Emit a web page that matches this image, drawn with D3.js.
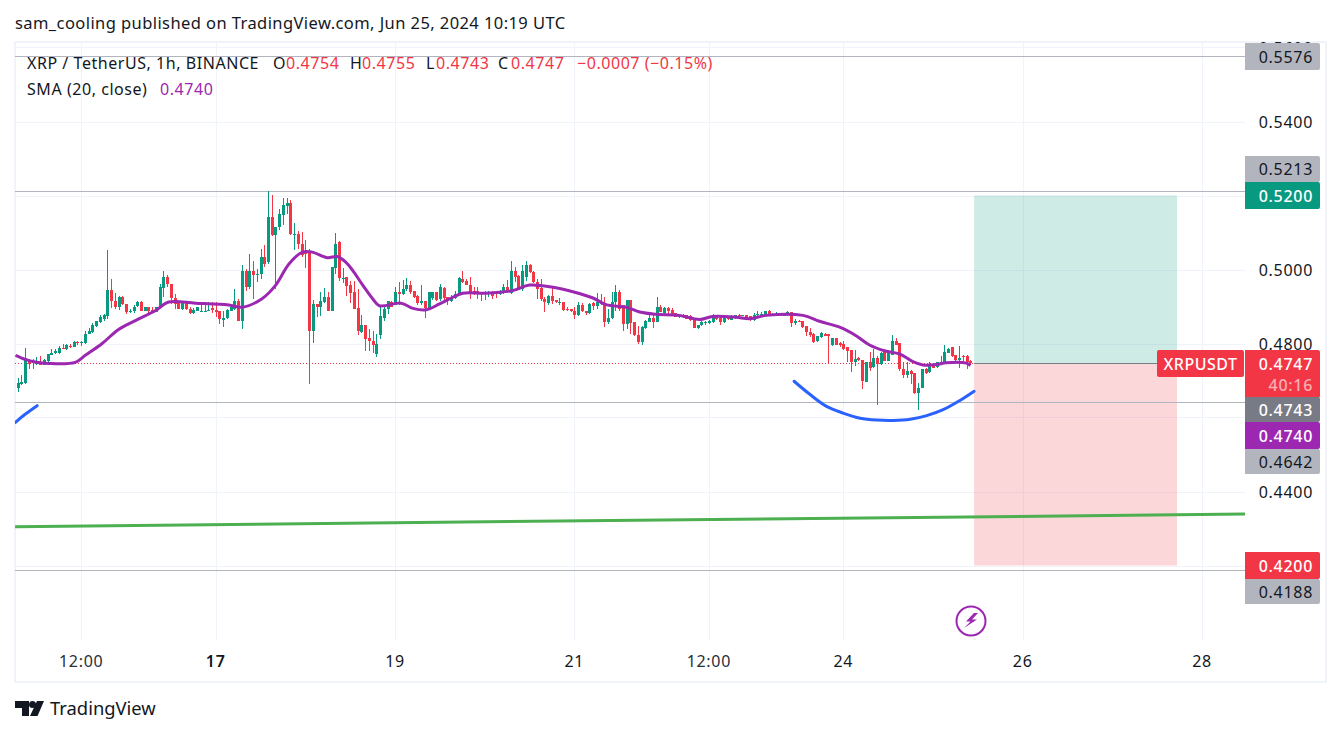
<!DOCTYPE html>
<html>
<head>
<meta charset="UTF-8">
<script src="https://d3js.org/d3.v7.min.js"></script>
<style>
html,body{margin:0;padding:0;background:#fff;}
svg{display:block;}
text{font-family:"Noto Sans",sans-serif;fill:#131722;}
</style>
</head>
<body>
<svg id="chart" width="1341" height="735"></svg>
<script>
// hourly bars, hour 0 = Jun 17 00:00, prices in 1/10000
const firstHour = -53;
const opens = [4679,4690,4692,4754,4752,4744,4751,4742,4753,4769,4774,4774,4787,4785,4793,4790,4804,4801,4801,4826,4830,4847,4859,4867,4873,4944,4916,4898,4925,4907,4884,4887,4901,4911,4889,4900,4891,4884,4898,4951,4981,4962,4924,4915,4892,4911,4894,4882,4889,4888,4888,4888,4895,4891,4887,4863,4868,4889,4894,4915,4861,4995,4952,4995,4988,4988,5035,5019,5143,5092,5114,5146,5171,5181,5096,5097,5069,5050,5047,4833,4908,4898,4911,4925,4889,5005,5073,4977,
  4979,4959,4939,4895,4830,4851,4814,4808,4772,4822,4870,4892,4912,4905,4939,4933,4946,4957,4943,4928,4909,4916,4894,4924,4939,4921,4951,4925,4915,4923,4933,4975,4968,4959,4943,4943,4933,4934,4934,4940,4940,4933,4936,4954,4936,4997,4982,4948,4979,5011,4993,4967,4949,4921,4910,4928,4918,4911,4913,4892,4892,4889,4876,4905,4887,4883,4909,4901,4907,4909,4857,4868,4912,4940,4903,4853,4918,4859,4824,4804,4841,4859,4869,4859,4900,4882,4895,
  4891,4882,4871,4873,4876,4873,4867,4841,4849,4855,4855,4857,4877,4868,4857,4871,4864,4869,4878,4876,4878,4873,4864,4876,4877,4878,4887,4876,4877,4879,4876,4876,4886,4855,4862,4860,4846,4832,4826,4806,4817,4825,4825,4795,4815,4801,4799,4790,4783,4750,4760,4756,4697,4750,4736,4761,4744,4777,4754,4770,4808,4801,4732,4714,4727,4719,4667,4681,4731,4722,4743,4736,4749,4750,4775,4790,4768,4755,4765,4767,4754];
const highs = [4708,4716,4789,4759,4759,4763,4767,4757,4771,4786,4785,4794,4800,4798,4800,4808,4807,4807,4834,4842,4855,4862,4876,4881,5054,4973,4936,4928,4929,4907,4892,4903,4916,4914,4900,4900,4900,4900,4961,4997,4986,4962,4934,4915,4915,4915,4900,4895,4900,4903,4911,4912,4912,4913,4887,4889,4894,4907,4946,4921,5013,5002,5042,5024,5002,5056,5065,5213,5202,5114,5164,5194,5194,5188,5127,5105,5101,5080,5056,4918,4908,4938,4951,4939,5008,5098,5078,5005,
  4979,4969,4970,4948,4878,4851,4838,4833,4826,4898,4903,4916,4916,4952,4966,4972,4977,4970,4943,4930,4959,4916,4939,4940,4940,4961,4952,4927,4930,4943,4979,4997,4975,4981,4952,4952,4939,4943,4943,4943,4941,4945,4961,4972,5024,5006,4984,5011,5022,5015,4997,4975,4975,4925,4930,4954,4918,4923,4913,4900,4894,4898,4912,4909,4889,4909,4912,4936,4934,4925,4894,4939,4959,4945,4903,4918,4918,4859,4846,4846,4864,4885,4876,4927,4905,4898,4898,
  4896,4882,4878,4880,4878,4876,4867,4851,4860,4860,4864,4880,4878,4873,4873,4873,4878,4878,4880,4878,4878,4873,4882,4887,4884,4889,4891,4882,4884,4880,4882,4887,4886,4867,4864,4860,4846,4841,4828,4819,4830,4828,4825,4815,4815,4804,4806,4790,4783,4783,4763,4756,4750,4777,4785,4765,4777,4781,4774,4824,4815,4801,4750,4750,4729,4719,4693,4731,4734,4751,4745,4751,4765,4795,4788,4790,4768,4792,4768,4769,4755];
const lows = [4668,4687,4690,4731,4731,4741,4741,4741,4750,4768,4771,4772,4784,4783,4788,4790,4796,4793,4799,4825,4828,4844,4855,4862,4866,4897,4894,4891,4905,4879,4882,4882,4899,4887,4888,4880,4882,4884,4897,4925,4953,4907,4892,4893,4891,4891,4879,4879,4889,4886,4886,4888,4882,4871,4854,4845,4866,4888,4891,4860,4838,4943,4947,4921,4966,4975,5006,5014,5090,4947,5107,5119,5150,5094,5054,5056,5035,5005,4691,4801,4871,4873,4909,4888,4888,4989,4969,4963,
  4928,4909,4892,4822,4828,4781,4781,4774,4763,4811,4862,4880,4898,4903,4903,4930,4943,4934,4923,4903,4905,4868,4891,4918,4916,4916,4916,4905,4913,4921,4930,4963,4957,4919,4930,4921,4914,4918,4925,4920,4923,4930,4934,4936,4934,4966,4945,4943,4970,4991,4964,4921,4916,4885,4905,4907,4910,4905,4889,4889,4886,4866,4873,4885,4878,4880,4891,4894,4903,4844,4853,4866,4889,4889,4835,4840,4826,4820,4799,4797,4839,4857,4842,4857,4885,4878,4880,
  4877,4871,4868,4869,4867,4862,4841,4840,4848,4850,4853,4855,4864,4851,4856,4864,4864,4867,4867,4873,4867,4861,4862,4873,4873,4877,4876,4873,4875,4873,4873,4875,4844,4850,4857,4842,4820,4817,4801,4804,4815,4819,4744,4793,4795,4790,4783,4750,4722,4738,4754,4678,4695,4727,4734,4635,4743,4752,4752,4768,4796,4727,4707,4707,4691,4664,4619,4680,4718,4721,4734,4734,4745,4750,4773,4764,4754,4733,4754,4732,4743];
const closes = [4692,4695,4761,4744,4747,4752,4742,4756,4771,4774,4780,4788,4785,4795,4790,4804,4801,4804,4827,4835,4850,4862,4871,4878,4944,4915,4898,4925,4907,4884,4889,4900,4913,4889,4900,4889,4884,4898,4952,4981,4960,4922,4907,4893,4912,4893,4883,4891,4900,4889,4889,4891,4891,4884,4866,4870,4891,4898,4916,4861,4995,4952,4995,4984,4989,5035,5016,5143,5092,5114,5149,5173,5181,5095,5097,5068,5038,5041,4833,4908,4898,4915,4925,4889,5008,5069,4976,4978,
  4955,4936,4893,4833,4851,4812,4806,4797,4799,4873,4894,4914,4900,4939,4933,4948,4957,4940,4925,4909,4916,4897,4939,4939,4918,4952,4922,4915,4925,4934,4977,4966,4958,4933,4933,4933,4939,4939,4939,4928,4933,4941,4954,4939,4997,4979,4948,4997,5011,4993,4966,4946,4919,4912,4928,4916,4912,4913,4890,4890,4889,4876,4903,4887,4882,4907,4901,4912,4913,4857,4869,4913,4940,4892,4853,4918,4855,4822,4804,4844,4862,4869,4859,4900,4886,4895,4889,
  4878,4871,4876,4878,4867,4864,4841,4849,4858,4858,4860,4877,4866,4858,4871,4866,4873,4878,4873,4878,4869,4863,4876,4880,4880,4887,4878,4878,4880,4876,4878,4886,4855,4862,4859,4844,4831,4824,4804,4819,4828,4821,4821,4815,4797,4795,4786,4779,4751,4759,4756,4700,4750,4734,4761,4744,4774,4754,4774,4808,4797,4730,4715,4727,4718,4667,4680,4731,4721,4743,4734,4751,4751,4778,4786,4766,4755,4761,4763,4751,4747];

// SMA(20)
const smaHours = [-53.6,-51,-48.3,-44.7,-37.6,-34.9,-30.4,-26,-21.5,-16.1,-12.6,-5.4,3.5,7.1,12.4,16,19.6,23.2,25.8,29.9,32.5,34.8,36.7,39.4,42,43.8,49.6,52.8,56.3,59.9,63.5,66.1,72.4,79.5,84,90.3,95.6,101,104.5,109.9,113.5,117.9,124,129.5,133,139.3,142.9,147.3,157.2,161.6,167,171.4,175,179.5,183,186.6,189.3,192.9,195.5,200.9,202];
const smaValues = [4768,4757,4750,4746,4749,4768,4800,4838,4862,4889,4912,4909,4904,4898,4921,4957,5015,5047,5047,5032,5035,5020,4997,4957,4921,4902,4909,4895,4891,4907,4925,4936,4936,4943,4958,4952,4940,4923,4905,4898,4885,4879,4876,4865,4873,4871,4867,4876,4876,4860,4844,4821,4796,4779,4772,4751,4742,4743,4748,4747,4740];

// hand drawn arcs and trend line
const arcHours = [154.8,159.1,163.5,167.9,172.5,176.9,181.3,185.9,190.3,194.7,199.2,203];
const arcPrices = [4698,4662,4630,4612,4598,4593,4592,4595,4605,4621,4646,4671];
const arc2Hours = [-53.7,-51.1,-47.8];
const arc2Prices = [4586,4608,4632];
const trendHours = [-53.7,275.5];
const trendPrices = [4305,4339];

const levelPrices = [0.5576,0.5213,0.4642,0.4188];
const lastPrice = 0.4747;
const targetPrice = 0.52;
const stopPrice = 0.42;
const boxHours = [203,257.3];

const gridPrices = [0.56,0.54,0.52,0.50,0.48,0.46,0.44,0.42];
const priceTicks = [0.56,0.54,0.50,0.48,0.44];
const timeTicks = [-36,0,48,96,132,168,216,264];
const timeLabels = ["12:00","17","19","21","12:00","24","26","28"];

const GREEN = "#089981", RED = "#f23645", PURPLE = "#9c27b0", BLUE = "#2962ff", GRID = "#f0f3fa", LEVEL = "#b2b5be";

const x = d3.scaleLinear().domain([-53,202]).range([17.7,970.4]);
const y = d3.scaleLinear().domain([0.54,0.44]).range([121.5,491.5]);
const pane = {left:15,right:1245,top:42,bottom:640};

const svg = d3.select("#chart");
svg.append("defs").append("clipPath").attr("id","pane").append("rect")
  .attr("x",pane.left).attr("y",pane.top).attr("width",pane.right-pane.left).attr("height",pane.bottom-pane.top);

svg.append("text").attr("x",15).attr("y",29).attr("font-size",16.5).attr("letter-spacing",.42).text("sam_cooling published on TradingView.com, Jun 25, 2024 10:19 UTC");

// frame
svg.append("rect").attr("x",15).attr("y",42).attr("width",1311).attr("height",640).attr("fill","none").attr("stroke",GRID).attr("stroke-width",2);

const g = svg.append("g").attr("clip-path","url(#pane)");

// grid
g.selectAll(".gy").data(gridPrices).join("line").attr("x1",pane.left).attr("x2",pane.right)
  .attr("y1",d=>Math.round(y(d))+.5).attr("y2",d=>Math.round(y(d))+.5).attr("stroke",GRID);
g.selectAll(".gx").data(timeTicks).join("line").attr("y1",pane.top).attr("y2",pane.bottom)
  .attr("x1",d=>Math.round(x(d))+.5).attr("x2",d=>Math.round(x(d))+.5).attr("stroke",GRID);

// long position box
g.append("rect").attr("x",x(boxHours[0])).attr("width",x(boxHours[1])-x(boxHours[0]))
  .attr("y",y(targetPrice)).attr("height",y(lastPrice)-y(targetPrice)).attr("fill",GREEN).attr("fill-opacity",.2);
g.append("rect").attr("x",x(boxHours[0])).attr("width",x(boxHours[1])-x(boxHours[0]))
  .attr("y",y(lastPrice)).attr("height",y(stopPrice)-y(lastPrice)).attr("fill",RED).attr("fill-opacity",.2);
g.append("line").attr("x1",x(boxHours[0])).attr("x2",x(boxHours[1])).attr("y1",Math.round(y(lastPrice))+.5).attr("y2",Math.round(y(lastPrice))+.5).attr("stroke","#787b86");

// horizontal levels
g.selectAll(".lvl").data(levelPrices).join("line").attr("x1",pane.left).attr("x2",pane.right)
  .attr("y1",d=>Math.round(y(d))+.5).attr("y2",d=>Math.round(y(d))+.5).attr("stroke",LEVEL).attr("stroke-width",1);

// last price
g.append("line").attr("x1",pane.left).attr("x2",x(boxHours[0])).attr("y1",Math.round(y(lastPrice))+.5).attr("y2",Math.round(y(lastPrice))+.5)
  .attr("stroke",RED).attr("stroke-dasharray","1 2");

// trend line
const pts = (hs,ps)=>hs.map((h,i)=>[x(h),y(ps[i]/1e4)]);
g.append("path").attr("d",d3.line()(pts(trendHours,trendPrices))).attr("fill","none").attr("stroke","#4caf50").attr("stroke-width",3);

// candles
const bars = opens.map((o,i)=>({h:firstHour+i,o:o/1e4,hi:highs[i]/1e4,lo:lows[i]/1e4,c:closes[i]/1e4}));
const color = d=>d.c>=d.o?GREEN:RED;
const candle = g.append("g").attr("shape-rendering","crispEdges").selectAll("g").data(bars).join("g");
candle.append("rect").attr("x",d=>Math.round(x(d.h))).attr("width",1)
  .attr("y",d=>y(d.hi)).attr("height",d=>y(d.lo)-y(d.hi)).attr("fill",color);
candle.append("rect").attr("x",d=>Math.round(x(d.h))-1).attr("width",3)
  .attr("y",d=>y(Math.max(d.o,d.c))).attr("height",d=>Math.max(1,Math.abs(y(d.o)-y(d.c)))).attr("fill",color);

// SMA
g.append("path").attr("d",d3.line().curve(d3.curveCatmullRom)(pts(smaHours,smaValues))).attr("fill","none")
  .attr("stroke",PURPLE).attr("stroke-width",3).attr("stroke-linejoin","round");

// blue arcs
[[arcHours,arcPrices],[arc2Hours,arc2Prices]].forEach(a=>{
  g.append("path").attr("d",d3.line().curve(d3.curveCatmullRom)(pts(a[0],a[1]))).attr("fill","none")
    .attr("stroke",BLUE).attr("stroke-width",3).attr("stroke-linecap","round");
});

// legend
function legend(yPos,parts){
  parts.forEach(p=>svg.append("text").attr("x",p[0]).attr("y",yPos).attr("font-size",16).attr("letter-spacing",.55).style("fill",p[2]||"#131722").text(p[1]));
}
legend(69,[[27,"XRP / TetherUS, 1h, BINANCE"],[273,"O"],[286,"0.4754",RED],[350,"H"],[362,"0.4755",RED],[426,"L"],[436,"0.4743",RED],[498,"C"],[511,"0.4747",RED],[577,"−0.0007 (−0.15%)",RED]]);
legend(95,[[27,"SMA (20, close)"],[160,"0.4740",PURPLE]]);

// price axis
svg.selectAll(".pt").data(priceTicks).join("text").attr("x",1313).attr("text-anchor","end")
  .attr("y",d=>y(d)+6).attr("font-size",16).attr("letter-spacing",.7).text(d=>d.toFixed(4));

// time axis
svg.selectAll(".tt").data(timeTicks).join("text").attr("x",d=>x(d)).attr("y",667).attr("text-anchor","middle")
  .attr("font-size",16).attr("letter-spacing",.7).attr("font-weight",(d,i)=>timeLabels[i]==="17"?600:400)
  .style("fill",(d,i)=>timeLabels[i]==="12:00"?"#2a2e39":"#131722").text((d,i)=>timeLabels[i]);

// price tags, stacked where they collide
function tagText(yPos,label,fill,opacity){
  svg.append("text").attr("x",1313).attr("y",yPos).attr("text-anchor","end").attr("font-size",16).attr("letter-spacing",.7)
    .attr("font-weight",fill==="#fff"?500:400).style("fill",fill).style("fill-opacity",opacity||1).text(label);
}
function tag(top,bot,fill,label,textFill){
  svg.append("path").attr("d",`M1245 ${top}H1318q2 0 2 2V${bot-2}q0 2 -2 2H1245Z`).attr("fill",fill);
  if(label) tagText((top+bot)/2+6,label,textFill);
}
tag(43,70,LEVEL,"0.5576","#131722");
tag(156,182,LEVEL,"0.5213","#131722");
tag(182,209,GREEN,"0.5200","#fff");
tag(350,398,RED);
tagText(370,"0.4747","#fff");
tagText(391,"40:16","#fff",.6);
tag(397,422,"#787b86","0.4743","#fff");
tag(422,449,PURPLE,"0.4740","#fff");
tag(449,474,LEVEL,"0.4642","#131722");
tag(552,579,RED,"0.4200","#fff");
tag(579,604,LEVEL,"0.4188","#131722");
// symbol tag
svg.append("rect").attr("x",1157).attr("y",350).attr("width",87).attr("height",27).attr("rx",2).attr("fill",RED);
svg.append("text").attr("x",1200.5).attr("y",370).attr("text-anchor","middle").attr("font-size",16).attr("letter-spacing",.5).attr("font-weight",500).style("fill","#fff").text("XRPUSDT");

// lightning marker
svg.append("circle").attr("cx",971).attr("cy",621).attr("r",14.5).attr("fill","#fff").attr("stroke",PURPLE).attr("stroke-width",2);
svg.append("path").attr("d","M974 613L966 621.5H970.5L964 628L977 619.5H972L978 613Z").attr("fill",PURPLE);

// logo
svg.append("path").attr("d","M15 701H29V716H22V708H15Z").attr("fill","#131722");
svg.append("circle").attr("cx",32.5).attr("cy",704.5).attr("r",3.5).attr("fill","#131722");
svg.append("path").attr("d","M37 701H44L37.5 716H30Z").attr("fill","#131722");
svg.append("text").attr("x",50).attr("y",715).attr("font-size",18.4).text("TradingView");
</script>
</body>
</html>
